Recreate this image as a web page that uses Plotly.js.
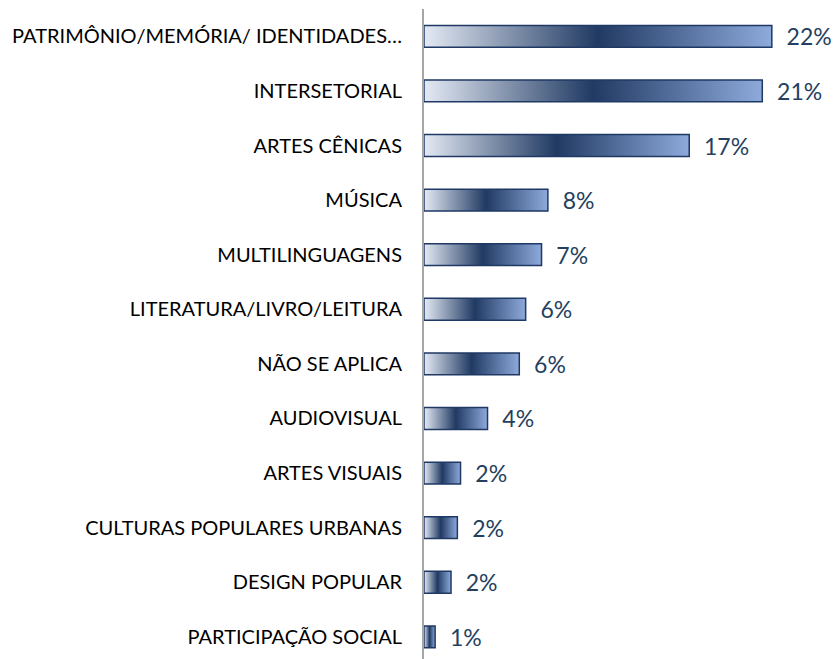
<!DOCTYPE html>
<html><head><meta charset="utf-8">
<script src="https://cdn.plot.ly/plotly-3.0.1.min.js"></script>
<style>html,body{margin:0;padding:0;overflow:hidden;background:#fff}</style>
</head><body>
<div id="chart" style="width:839px;height:659px"></div>
<script>
const categories = ["PATRIMÔNIO/MEMÓRIA/ IDENTIDADES…","INTERSETORIAL","ARTES CÊNICAS","MÚSICA","MULTILINGUAGENS","LITERATURA/LIVRO/LEITURA","NÃO SE APLICA","AUDIOVISUAL","ARTES VISUAIS","CULTURAS POPULARES URBANAS","DESIGN POPULAR","PARTICIPAÇÃO SOCIAL"];
const values = [21.9, 21.3, 16.7, 7.8, 7.4, 6.4, 6.0, 4.0, 2.3, 2.1, 1.7, 0.7];
const labels = ["22%","21%","17%","8%","7%","6%","6%","4%","2%","2%","2%","1%"];

const trace = {
  type: 'bar', orientation: 'h',
  x: values, y: categories,
  text: labels,
  texttemplate: '\u00a0\u00a0%{text}',
  textposition: 'outside',
  constraintext: 'none',
  cliponaxis: false,
  textfont: {family: 'Lato, "Open Sans", sans-serif', size: 23, color: '#243f60'},
  outsidetextfont: {family: 'Lato, "Open Sans", sans-serif', size: 23, color: '#243f60'},
  marker: {color: '#1f3864', line: {color: '#1f3864', width: 1.5}},
  hoverinfo: 'skip'
};
const layout = {
  width: 839, height: 659,
  margin: {l: 424, r: 10, t: 9, b: 0},
  paper_bgcolor: '#fff', plot_bgcolor: '#fff',
  bargap: 0.6,
  showlegend: false,
  xaxis: {range: [0, 25.5], visible: false, showgrid: false, zeroline: false, fixedrange: true},
  yaxis: {type: 'category', range: [11.405, -0.5], showline: true, linecolor: '#a6a6a6', linewidth: 2,
          ticks: '', showgrid: false, ticklabelstandoff: 16,
          tickfont: {family: 'Lato, "Open Sans", sans-serif', size: 20, color: '#000'}}
};
Plotly.newPlot('chart', [trace], layout, {staticPlot: true, displayModeBar: false}).then(function(gd){
  const svg = gd.querySelector('svg.main-svg');
  const ns = 'http://www.w3.org/2000/svg';
  let defs = svg.querySelector('defs');
  if (!defs) { defs = document.createElementNS(ns, 'defs'); svg.insertBefore(defs, svg.firstChild); }
  const lg = document.createElementNS(ns, 'linearGradient');
  lg.setAttribute('id', 'barGrad');
  lg.setAttribute('x1', '0'); lg.setAttribute('y1', '0');
  lg.setAttribute('x2', '1'); lg.setAttribute('y2', '0');
  [['0', '#e4eaf4'], ['0.5', '#203a63'], ['1', '#8eaadb']].forEach(function(s){
    const st = document.createElementNS(ns, 'stop');
    st.setAttribute('offset', s[0]); st.setAttribute('stop-color', s[1]);
    lg.appendChild(st);
  });
  defs.appendChild(lg);
  gd.querySelectorAll('.bars .point path').forEach(function(p){
    p.style.fill = 'url(#barGrad)';
  });
});
</script>
</body></html>
